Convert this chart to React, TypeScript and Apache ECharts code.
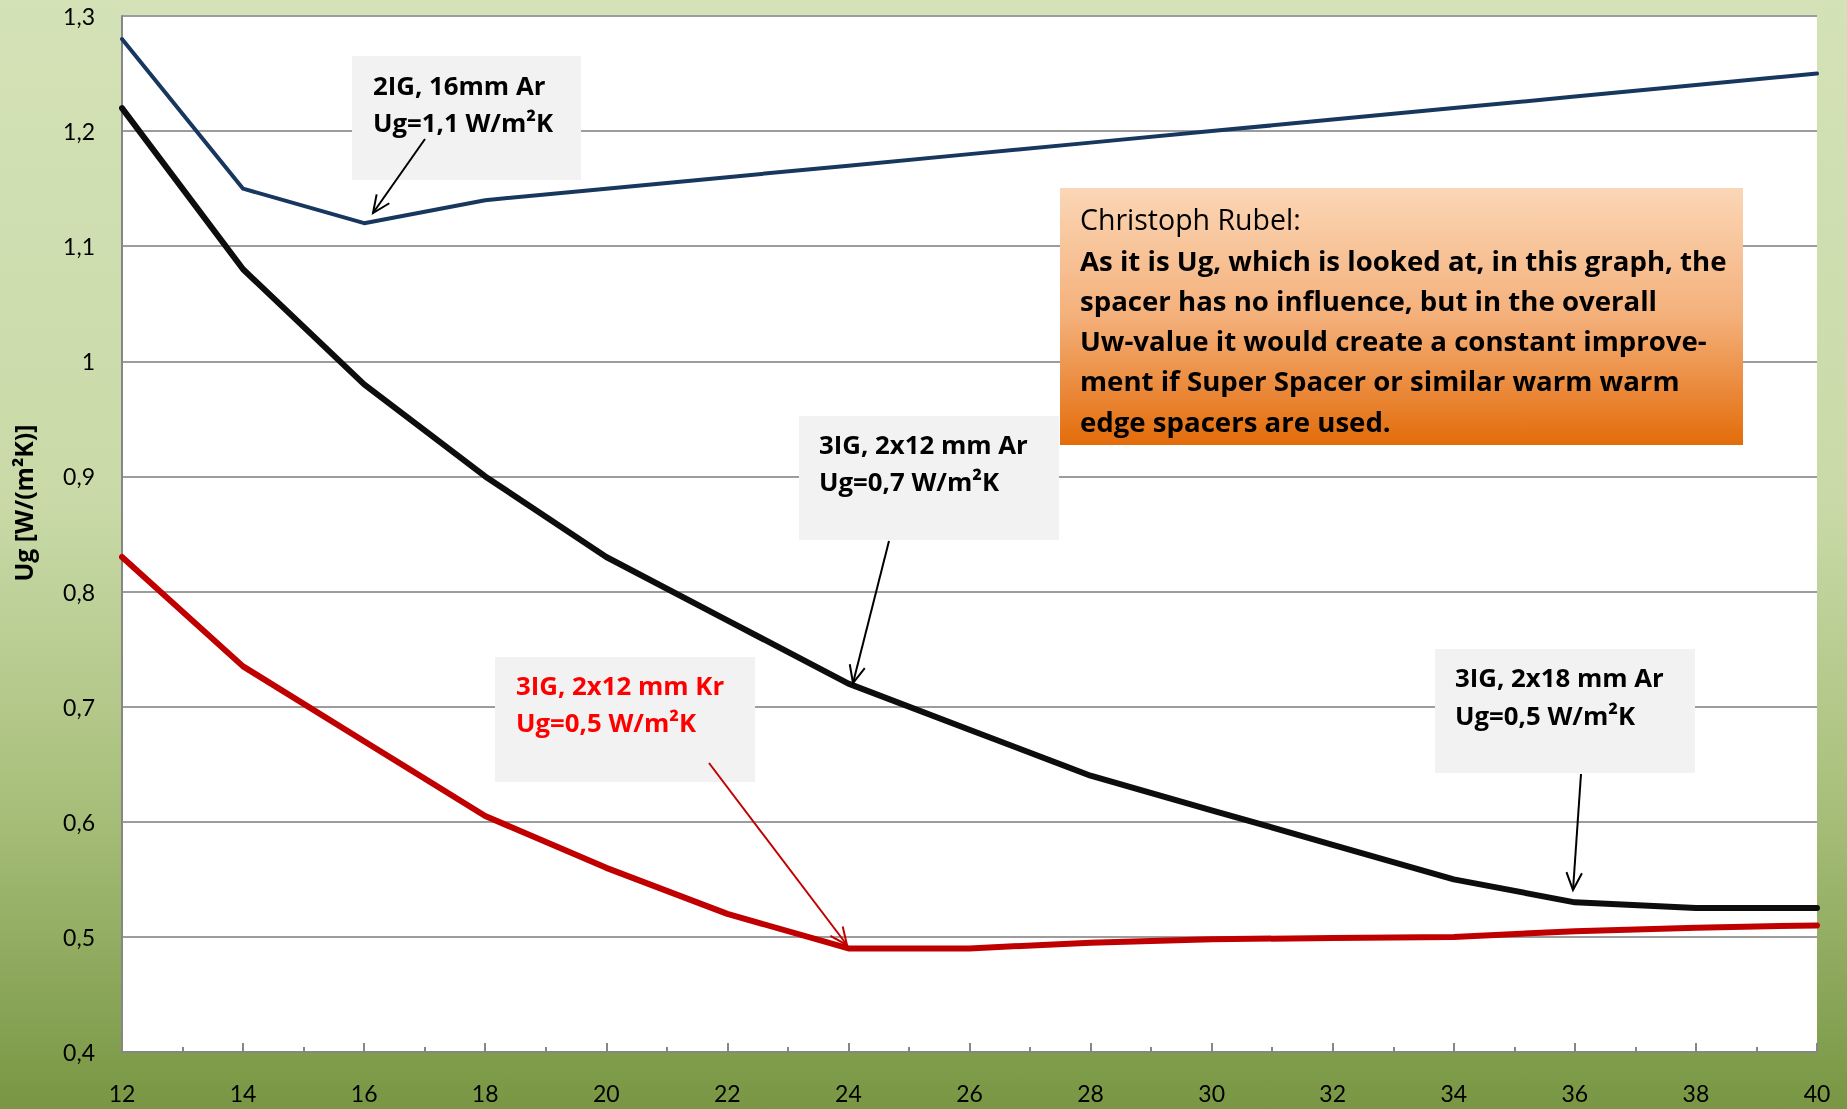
import React, { useEffect, useRef } from "react";
import * as echarts from "echarts";

// ---- data ----
const xValues = [12, 14, 16, 18, 20, 22, 24, 26, 28, 30, 32, 34, 36, 38, 40];
const ig2Ar16 = [1.28, 1.15, 1.12, 1.14, 1.15, 1.16, 1.17, 1.18, 1.19, 1.2, 1.21, 1.22, 1.23, 1.24, 1.25];
const ig3Ar = [1.22, 1.08, 0.98, 0.9, 0.83, 0.775, 0.72, 0.68, 0.64, 0.61, 0.58, 0.55, 0.53, 0.525, 0.525];
const ig3Kr = [0.83, 0.735, 0.67, 0.605, 0.56, 0.52, 0.49, 0.49, 0.495, 0.498, 0.499, 0.5, 0.505, 0.508, 0.51];
const yAxisName = "Ug [W/(m²K)]";
const noteTitle = "Christoph Rubel:";
const noteLines = [
  "As it is Ug, which is looked at, in this graph, the",
  "spacer has no influence, but in the overall",
  "Uw-value it would create a constant improve-",
  "ment if Super Spacer or similar warm warm",
  "edge spacers are used.",
];
const labels = [
  { lines: ["2IG, 16mm Ar", "Ug=1,1 W/m²K"], color: "#000000" },
  { lines: ["3IG, 2x12 mm Ar", "Ug=0,7 W/m²K"], color: "#000000" },
  { lines: ["3IG, 2x12 mm Kr", "Ug=0,5 W/m²K"], color: "#ff0000" },
  { lines: ["3IG, 2x18 mm Ar", "Ug=0,5 W/m²K"], color: "#000000" },
];

// ---- layout (annotation geometry, pixels) ----
const W = 1847;
const H = 1109;
const FONT = 'Lato, "Noto Sans", sans-serif';
const NOTE_FONT = '"Open Sans", "Noto Sans", sans-serif';
const boxGeom = [
  { x: 352, y: 56, w: 229, h: 124, tx: 373, l1: 85, l2: 122, ax1: 425, ay1: 139, ax2: 373, ay2: 213, ac: "#000000" },
  { x: 799, y: 416, w: 260, h: 124, tx: 819, l1: 444, l2: 481, ax1: 889, ay1: 541, ax2: 853, ay2: 683, ac: "#000000" },
  { x: 495, y: 657, w: 260, h: 125, tx: 516, l1: 685, l2: 722, ax1: 709, ay1: 763, ax2: 847, ay2: 945, ac: "#c00000" },
  { x: 1435, y: 649, w: 260, h: 124, tx: 1455, l1: 677, l2: 715, ax1: 1581, ay1: 774, ax2: 1573, ay2: 890, ac: "#000000" },
];

function arrow(x1: number, y1: number, x2: number, y2: number, color: string) {
  const a = Math.atan2(y2 - y1, x2 - x1);
  const len = 19;
  const s = 0.42;
  return [
    {
      type: "line",
      z: 20,
      shape: { x1, y1, x2, y2 },
      style: { stroke: color, lineWidth: 2 },
    },
    {
      type: "polyline",
      z: 20,
      shape: {
        points: [
          [x2 - len * Math.cos(a - s), y2 - len * Math.sin(a - s)],
          [x2, y2],
          [x2 - len * Math.cos(a + s), y2 - len * Math.sin(a + s)],
        ],
      },
      style: { stroke: color, lineWidth: 2, fill: null },
    },
  ];
}

export default function App() {
  const ref = useRef<HTMLDivElement>(null);
  useEffect(() => {
    if (!ref.current) return;
    const chart = echarts.init(ref.current, null, { renderer: "svg" });

    const graphics: any[] = [];
    graphics.push({
      type: "rect",
      z: -100,
      silent: true,
      shape: { x: 0, y: 0, width: W, height: H },
      style: {
        fill: {
          type: "linear", x: 0, y: 0, x2: 0, y2: 1,
          colorStops: [
            { offset: 0, color: "#d4e2b7" },
            { offset: 0.45, color: "#c9daa8" },
            { offset: 0.72, color: "#a9c07c" },
            { offset: 1, color: "#789643" },
          ],
        },
      },
    });
    boxGeom.forEach((b, i) => {
      graphics.push({
        type: "rect", z: 10,
        shape: { x: b.x, y: b.y, width: b.w, height: b.h },
        style: { fill: "#f2f2f2" },
      });
      [b.l1, b.l2].forEach((ly, j) => {
        graphics.push({
          type: "text", z: 11, x: b.tx, y: ly,
          style: {
            text: labels[i].lines[j], fill: labels[i].color,
            fontSize: 25.8, fontWeight: "bold", fontFamily: NOTE_FONT,
            align: "left", verticalAlign: "middle",
          },
        });
      });
      graphics.push(...arrow(b.ax1, b.ay1, b.ax2, b.ay2, b.ac));
    });
    // orange note
    graphics.push({
      type: "rect", z: 10,
      shape: { x: 1060, y: 188, width: 683, height: 257 },
      style: {
        fill: {
          type: "linear", x: 0, y: 0, x2: 0, y2: 1,
          colorStops: [
            { offset: 0, color: "#fbd6b6" },
            { offset: 0.5, color: "#f4b07a" },
            { offset: 1, color: "#e36c0a" },
          ],
        },
      },
    });
    const noteY = [219, 260, 300, 340, 380, 421];
    graphics.push({
      type: "text", z: 11, x: 1080, y: noteY[0],
      style: { text: noteTitle, fill: "#000", fontSize: 28.5, fontFamily: NOTE_FONT, align: "left", verticalAlign: "middle" },
    });
    noteLines.forEach((t, i) => {
      graphics.push({
        type: "text", z: 11, x: 1080, y: noteY[i + 1],
        style: { text: t, fill: "#000", fontSize: 27.6, fontWeight: "bold", fontFamily: NOTE_FONT, align: "left", verticalAlign: "middle" },
      });
    });
    // y axis name
    graphics.push({
      type: "text", z: 11, x: 23, y: 503, rotation: Math.PI / 2,
      style: { text: yAxisName, fill: "#000", fontSize: 24.8, fontWeight: "bold", fontFamily: NOTE_FONT, align: "center", verticalAlign: "middle" },
    });

    const lineSeries = (name: string, data: number[], color: string, width: number) => ({
      name, type: "line", showSymbol: false, symbol: "none",
      data: xValues.map((x, i) => [x, data[i]]),
      lineStyle: { color, width, join: "round", cap: "round" },
      z: 3,
    });

    chart.setOption({
      animation: false,
      grid: { left: 122, top: 16, right: 30, bottom: 57, show: true, backgroundColor: "#ffffff", borderWidth: 0 },
      xAxis: {
        type: "value", min: 12, max: 40, interval: 2,
        axisLine: { show: true, lineStyle: { color: "#868686", width: 2 } },
        axisTick: { show: true, inside: true, length: 9, lineStyle: { color: "#868686", width: 2 } },
        minorTick: { show: true, splitNumber: 2, length: 5, lineStyle: { color: "#868686", width: 2 } },
        splitLine: { show: false },
        axisLabel: { fontSize: 23, fontFamily: FONT, color: "#000", margin: 29 },
      },
      yAxis: {
        type: "value", min: 0.4, max: 1.3, interval: 0.1,
        axisLine: { show: true, lineStyle: { color: "#868686", width: 2 } },
        axisTick: { show: false },
        splitLine: { show: true, lineStyle: { color: "#9c9c9c", width: 2 } },
        axisLabel: {
          fontSize: 23, fontFamily: FONT, color: "#000", margin: 27,
          formatter: (v: number) => String(Math.round(v * 10) / 10).replace(".", ","),
        },
      },
      series: [
        lineSeries("2IG, 16mm Ar", ig2Ar16, "#17375e", 4),
        lineSeries("3IG, 2x12 mm Ar", ig3Ar, "#0d0d0d", 6),
        lineSeries("3IG, 2x12 mm Kr", ig3Kr, "#c00000", 6),
      ],
      graphic: { elements: graphics },
    });
    return () => chart.dispose();
  }, []);
  return <div ref={ref} style={{ position: "fixed", left: 0, top: 0, width: W, height: H }} />;
}
